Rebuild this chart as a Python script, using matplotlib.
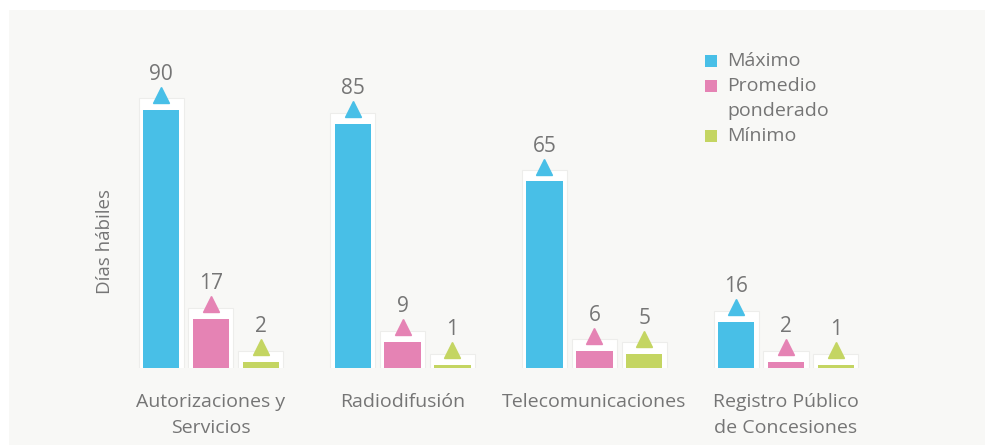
import matplotlib
matplotlib.use("Agg")
import matplotlib.pyplot as plt
import numpy as np
from matplotlib.patches import Rectangle

categories = ["Autorizaciones y\nServicios", "Radiodifusión", "Telecomunicaciones",
              "Registro Público\nde Concesiones"]
series_names = ["Máximo", "Promedio\nponderado", "Mínimo"]
maximo = [90, 85, 65, 16]
promedio = [17, 9, 6, 2]
minimo = [2, 1, 5, 1]
colors = ["#48bfe7", "#e583b4", "#c4d562"]

plt.rcParams["font.family"] = ["Open Sans", "DejaVu Sans"]
TXT = "#757575"
W, H = 993, 445

fig = plt.figure(figsize=(W / 100, H / 100), dpi=100, facecolor="white")
fig.patches.append(Rectangle((9 / W, 0), 976 / W, 435 / H,
                             transform=fig.transFigure, facecolor="#f8f8f6",
                             edgecolor="none", zorder=-10))

ax = fig.add_axes([20 / W, 77 / H, 960 / W, 287 / H])
ax.set_facecolor("none")

x = np.arange(len(categories))
offset = 0.26
width = 0.19
frame_w = 0.235

for k, vals in enumerate([maximo, promedio, minimo]):
    xs = x + (k - 1) * offset
    vals = np.array(vals)
    # white frame behind each bar
    ax.bar(xs, vals + 5.7, width=frame_w, bottom=-1.7, color="white",
           edgecolor="#ededeb", linewidth=0.8, zorder=2)
    ax.bar(xs, vals, width=width, color=colors[k], zorder=3)
    ax.plot(xs, vals + 5.2, linestyle="none", marker="^", markersize=11,
            color=colors[k], zorder=4)
    for xi, v in zip(xs, vals):
        ax.text(xi, v + 12.3, str(v), ha="center", va="center",
                fontsize=15, color=TXT, zorder=5)

ax.set_xlim(-0.996, 4.012)
ax.set_ylim(0, 100)
ax.set_xticks(x)
ax.set_xticklabels(categories, fontsize=14, color=TXT, linespacing=1.55)
ax.tick_params(axis="x", length=0, pad=18)
ax.set_yticks([])
for s in ax.spines.values():
    s.set_visible(False)

fig.text(105 / W, 1 - 241 / H, "Días hábiles", rotation=90, ha="center",
         va="center", fontsize=13.5, color=TXT)

# legend drawn by hand so the square sits on the first line of each label
row_y = 61
for name, c in zip(series_names, colors):
    fig.patches.append(Rectangle((705 / W, 1 - (row_y + 6) / H), 12 / W, 12 / H,
                                 transform=fig.transFigure, facecolor=c,
                                 edgecolor="none"))
    for line in name.split("\n"):
        fig.text(727 / W, 1 - row_y / H, line, ha="left", va="center",
                 fontsize=14, color=TXT)
        row_y += 25

fig.savefig("out.png", dpi=100, facecolor="white")
